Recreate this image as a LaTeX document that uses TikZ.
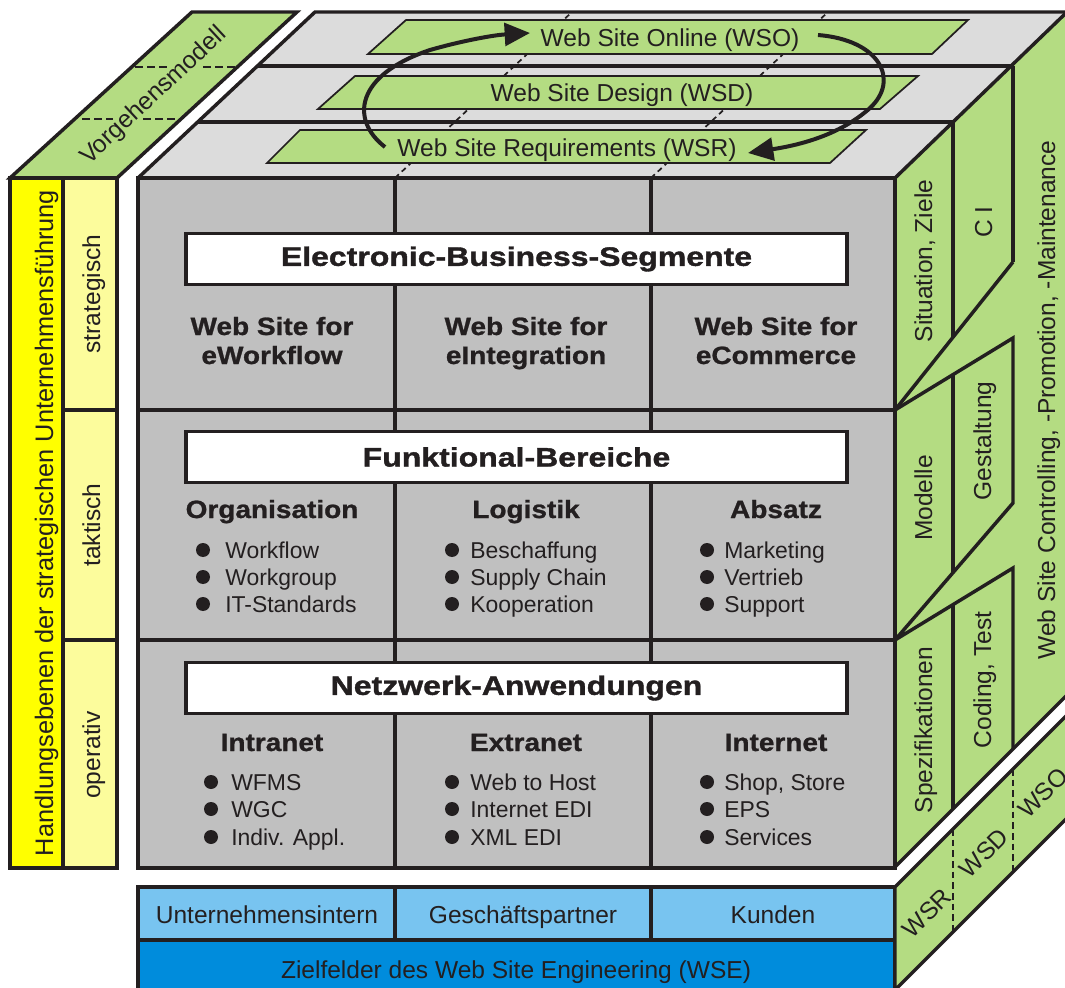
\documentclass[tikz,border=0pt]{standalone}
\usepackage{fontspec}
\setmainfont{Liberation Sans}
\newfontfamily\colfont{Liberation Sans}[FakeStretch=1.12,FakeBold=1.0]
\newfontfamily\hdrfont{Liberation Sans}[FakeStretch=1.2,FakeBold=1.4]
\usetikzlibrary{arrows.meta}
\definecolor{ink}{RGB}{35,31,32}
\definecolor{grn}{RGB}{180,220,130}
\definecolor{topg}{RGB}{220,220,220}
\definecolor{frontg}{RGB}{192,192,192}
\definecolor{yel}{RGB}{255,255,0}
\definecolor{lyel}{RGB}{252,252,156}
\definecolor{lblue}{RGB}{120,196,240}
\definecolor{dblue}{RGB}{0,140,220}
\begin{document}
\begin{tikzpicture}[x=0.75pt,y=-0.75pt,line join=miter,
  ln/.style={line width=2.6pt,draw=ink},
  thinln/.style={line width=1.3pt,draw=ink},
  lbl/.style={font=\fontsize{18.4pt}{22pt}\selectfont,inner sep=0pt,text=ink},
  itm/.style={font=\fontsize{17.2pt}{20pt}\selectfont,inner sep=0pt,anchor=base west,text=ink},
  colhd/.style={font=\colfont\bfseries\fontsize{18.75pt}{22pt}\selectfont,inner sep=0pt,anchor=base,text=ink},
  hdrbox/.style={draw=ink,line width=2.6pt,fill=white,minimum width=495.75pt,minimum height=38pt,inner sep=0pt,font=\hdrfont\bfseries\fontsize{20pt}{24pt}\selectfont,text=ink},
  bul/.style={circle,fill=ink,inner sep=0pt,minimum size=10.5pt},
  arr/.style={line width=3pt,draw=ink,-{Triangle[length=19pt,width=17pt]}}
]
\useasboundingbox (0,0) rectangle (1065,988);
\fill[white] (0,0) rectangle (1065,988);
\clip (0,0) rectangle (1065,988);

% ---------- top face ----------
\fill[topg] (138,178) -- (895,178) -- (1067,12) -- (315,12) -- cycle;
\draw[line width=1.3pt,draw=ink,dash pattern=on 4pt off 3pt] (395,178) -- (572,12);
\draw[line width=1.3pt,draw=ink,dash pattern=on 4pt off 3pt] (651,178) -- (828,12);
\draw[thinln,fill=grn] (368,54) -- (406,20) -- (968,20) -- (932,54) -- cycle;
\draw[thinln,fill=grn] (318,109) -- (355,76) -- (918,76) -- (880,109) -- cycle;
\draw[thinln,fill=grn] (267,163) -- (300,130) -- (866,130) -- (830,163) -- cycle;
\node[lbl,anchor=base] (wso) at (670,47) {Web Site Online (WSO)};
\node[lbl,anchor=base] (wsd) at (622,102) {Web Site Design (WSD)};
\node[lbl,anchor=base] (wsr) at (567,157) {Web Site Requirements (WSR)};
\draw[ln] (198,122) -- (953,122);
\draw[ln] (257,66) -- (1013,66);

% ---------- right face ----------
\fill[grn] (895,178) -- (1067,12) -- (1067,695) -- (895,867) -- cycle;
\draw[ln] (953,122) -- (953,337);
\draw[ln] (1013,66) -- (1013,262);
\draw[ln] (895,410) -- (1013,262);
\draw[ln] (895,410) -- (1013,338) -- (1013,503) -- (895,640) -- (1013,568) -- (1013,749);
\draw[ln] (953,375) -- (953,572);
\draw[ln] (953,605) -- (953,809);
\draw[ln] (895,867) -- (1067,695);
\node[lbl,rotate=90,anchor=base] (sz) at (932,261) {Situation, Ziele};
\node[lbl,rotate=90,anchor=base] (ci) at (992,222) {C I};
\node[lbl,rotate=90,anchor=base] (mo) at (932,498) {Modelle};
\node[lbl,rotate=90,anchor=base] (ge) at (991,441) {Gestaltung};
\node[lbl,rotate=90,anchor=base] (sp) at (932,730) {Spezifikationen};
\node[lbl,rotate=90,anchor=base] (ct) at (991,680) {Coding, Test};
\node[lbl,rotate=90,anchor=base] (wc) at (1055,400) {Web Site Controlling, -Promotion, -Maintenance};

% top outline
\draw[ln] (138,178) -- (315,12) -- (1067,12);
\draw[ln] (138,178) -- (895,178) -- (1067,12);

% ---------- front face ----------
\draw[ln,fill=frontg] (138,178) rectangle (895,868);
\draw[ln] (138,410) -- (895,410);
\draw[ln] (138,640) -- (895,640);
\draw[ln] (395,178) -- (395,868);
\draw[ln] (651,178) -- (651,868);

\node[hdrbox] (ebs) at (516.5,259) {Electronic-Business-Segmente};
\node[hdrbox] (fb) at (516.5,457) {Funktional-Bereiche};
\node[hdrbox] (nw) at (516.5,688) {Netzwerk-Anwendungen};

\node[colhd] (c1a) at (272,335) {Web Site for};
\node[colhd] (c1b) at (272,364) {eWorkflow};
\node[colhd] (c2a) at (526,335) {Web Site for};
\node[colhd] (c2b) at (526,364) {eIntegration};
\node[colhd] (c3a) at (776,335) {Web Site for};
\node[colhd] (c3b) at (776,364) {eCommerce};

\node[colhd] (org) at (272,518) {Organisation};
\node[colhd] (log) at (526,518) {Logistik};
\node[colhd] (abs) at (776,518) {Absatz};
\node[colhd] (intra) at (272,751) {Intranet};
\node[colhd] (extra) at (526,751) {Extranet};
\node[colhd] (inter) at (776,751) {Internet};

% bullets middle row
\node[bul] (b11) at (203,550) {}; \node[itm] (t11) at (225,558) {Workflow};
\node[bul] (b12) at (203,577) {}; \node[itm] (t12) at (225,585) {Workgroup};
\node[bul] (b13) at (203,604) {}; \node[itm] (t13) at (225,612) {IT-Standards};
\node[bul] (b21) at (452,550) {}; \node[itm] (t21) at (470,558) {Beschaffung};
\node[bul] (b22) at (452,577) {}; \node[itm] (t22) at (470,585) {Supply Chain};
\node[bul] (b23) at (452,604) {}; \node[itm] (t23) at (470,612) {Kooperation};
\node[bul] (b31) at (707,550) {}; \node[itm] (t31) at (724,558) {Marketing};
\node[bul] (b32) at (707,577) {}; \node[itm] (t32) at (724,585) {Vertrieb};
\node[bul] (b33) at (707,604) {}; \node[itm] (t33) at (724,612) {Support};
% bullets bottom row
\node[bul] (d11) at (211,782) {}; \node[itm] (u11) at (231,790) {WFMS};
\node[bul] (d12) at (211,809) {}; \node[itm] (u12) at (231,817) {WGC};
\node[bul] (d13) at (211,837) {}; \node[itm] (u13) at (231,845) {Indiv. Appl.};
\node[bul] (d21) at (452,782) {}; \node[itm] (u21) at (470,790) {Web to Host};
\node[bul] (d22) at (452,809) {}; \node[itm] (u22) at (470,817) {Internet EDI};
\node[bul] (d23) at (452,837) {}; \node[itm] (u23) at (470,845) {XML EDI};
\node[bul] (d31) at (707,782) {}; \node[itm] (u31) at (724,790) {Shop, Store};
\node[bul] (d32) at (707,809) {}; \node[itm] (u32) at (724,817) {EPS};
\node[bul] (d33) at (707,837) {}; \node[itm] (u33) at (724,845) {Services};

% ---------- left bars ----------
\draw[ln,fill=grn] (10,178) -- (117,178) -- (297,12) -- (192,12) -- cycle;
\draw[line width=2.2pt,draw=ink,dash pattern=on 6pt off 3pt] (135,67) -- (170,67) (203,67) -- (237,67);
\draw[line width=2.2pt,draw=ink,dash pattern=on 6pt off 3pt] (82,119) -- (113,119) (143,119) -- (180,119);
\node[lbl,rotate=43] (vm) at (154,96) {Vorgehensmodell};
\draw[ln,fill=yel] (10,178) rectangle (63,868);
\draw[ln,fill=lyel] (63,178) rectangle (117,868);
\draw[ln] (63,410) -- (117,410);
\draw[ln] (63,640) -- (117,640);
\node[lbl,rotate=90,anchor=base,font=\fontsize{19pt}{22pt}\selectfont] (hl) at (53,523) {Handlungsebenen der strategischen Unternehmensführung};
\node[lbl,rotate=90,anchor=base] (st) at (100,294) {strategisch};
\node[lbl,rotate=90,anchor=base] (ta) at (100,525) {taktisch};
\node[lbl,rotate=90,anchor=base] (op) at (100,755) {operativ};

% ---------- bottom ----------
\draw[ln,fill=lblue] (138,887) rectangle (895,940);
\draw[ln] (395,887) -- (395,940);
\draw[ln] (651,887) -- (651,940);
\draw[ln,fill=dblue] (138,940) rectangle (895,998);
\node[lbl,anchor=base] (ui) at (267,923) {Unternehmensintern};
\node[lbl,anchor=base] (gp) at (523,923) {Geschäftspartner};
\node[lbl,anchor=base] (ku) at (773,923) {Kunden};
\node[lbl,anchor=base] (zf) at (516,978) {Zielfelder des Web Site Engineering (WSE)};

\draw[ln,fill=grn] (895,998) -- (895,887) -- (1067,715) -- (1067,818) -- (895,990);
\draw[line width=2.2pt,draw=ink,dash pattern=on 5pt off 3pt] (953,829) -- (953,932);
\draw[line width=2.2pt,draw=ink,dash pattern=on 5pt off 3pt] (1013,769) -- (1013,872);
\node[lbl,rotate=45] (bwsr) at (927,913) {WSR};
\node[lbl,rotate=45] (bwsd) at (984,853) {WSD};
\node[lbl,rotate=45] (bwso) at (1043,793) {WSO};

% ---------- curved arrows ----------
\coordinate (a1s) at (385,147);
\coordinate (a1e) at (530,33);
\coordinate (a2s) at (818,35);
\coordinate (a2e) at (748,153);
\draw[arr] (a1s) .. controls (350,120) and (355,75) .. (430,50) .. controls (465,40) and (495,35) .. (a1e);
\draw[arr] (a2s) .. controls (880,40) and (900,80) .. (870,108) .. controls (840,135) and (800,145) .. (a2e);
\end{tikzpicture}
\end{document}
